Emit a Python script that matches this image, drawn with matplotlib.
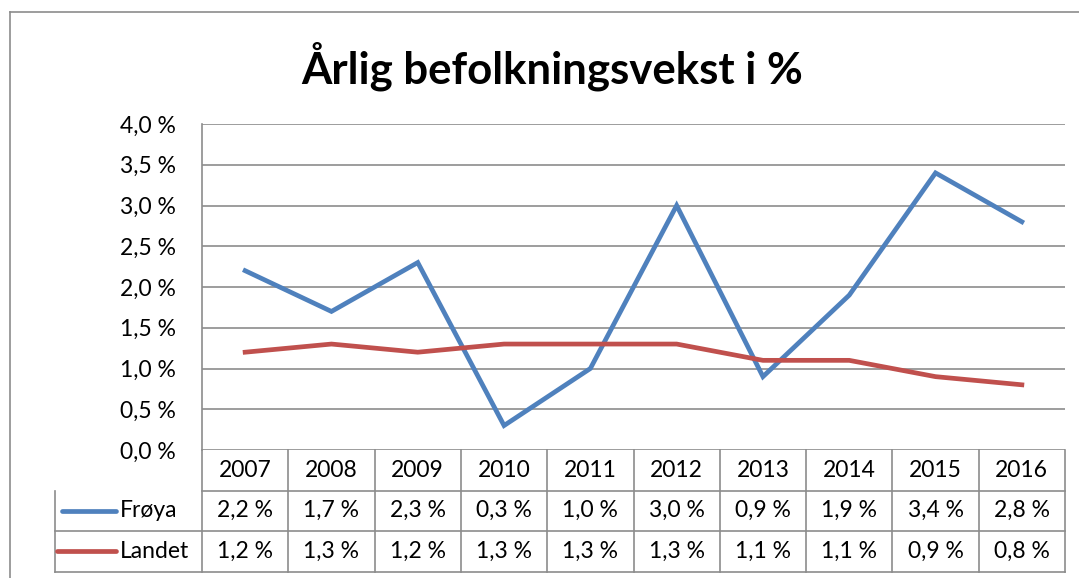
import matplotlib
matplotlib.use('Agg')
import matplotlib.pyplot as plt
from matplotlib.lines import Line2D
import numpy as np

plt.rcParams['font.family'] = ['Lato', 'DejaVu Sans']

# Data
years = ['2007', '2008', '2009', '2010', '2011', '2012', '2013', '2014', '2015', '2016']
froya = [2.2, 1.7, 2.3, 0.3, 1.0, 3.0, 0.9, 1.9, 3.4, 2.8]
landet = [1.2, 1.3, 1.2, 1.3, 1.3, 1.3, 1.1, 1.1, 0.9, 0.8]
series_names = ['Frøya', 'Landet']
series_colors = ['#4F81BD', '#C0504D']
y_ticks = [0.0, 0.5, 1.0, 1.5, 2.0, 2.5, 3.0, 3.5, 4.0]
title = 'Årlig befolkningsvekst i %'

W, H = 1079, 578
fig = plt.figure(figsize=(W / 100, H / 100), dpi=100)

# plot area in pixels
left_px, right_px, top_px, bottom_px = 202, 1065, 124, 450
ax = fig.add_axes([left_px / W, 1 - bottom_px / H,
                   (right_px - left_px) / W, (bottom_px - top_px) / H])

grid_col = '#8c8c8c'
fs = 16.5
x = np.arange(len(years))
for vals, col in zip([froya, landet], series_colors):
    ax.plot(x, vals, color=col, linewidth=3.4, solid_joinstyle='miter', zorder=3)

ax.set_xlim(-0.5, len(years) - 0.5)
ax.set_ylim(0, 4.0)
ax.set_yticks(y_ticks)
ax.set_yticklabels([f'{v:.1f} %'.replace('.', ',') for v in y_ticks], fontsize=fs)
ax.tick_params(axis='y', length=0, pad=19)
ax.set_xticks([])
ax.yaxis.grid(True, color=grid_col, linewidth=1.2)
ax.set_axisbelow(True)
for side in ['top', 'right', 'bottom']:
    ax.spines[side].set_visible(False)
ax.spines['left'].set_color(grid_col)
ax.spines['left'].set_linewidth(1.2)

# data table below plot (x in data units, y in axes fraction)
tr = ax.get_xaxis_transform()
col_px = (right_px - left_px) / len(years)
px2x = lambda px: -0.5 + (px - left_px) / col_px
row_h = 40.5 / (bottom_px - top_px)
legend_left = px2x(55)
n_rows = 1 + len(series_names)
y_bottom = -row_h * n_rows
kw = dict(color=grid_col, linewidth=1.2, transform=tr, clip_on=False)

# horizontal lines
ax.plot([-0.5, len(years) - 0.5], [-row_h, -row_h], **kw)
for r in range(1, n_rows):
    y = -row_h * (r + 1)
    ax.plot([legend_left, len(years) - 0.5], [y, y], **kw)
ax.plot([legend_left, legend_left], [-row_h, y_bottom], **kw)
for i in range(len(years) + 1):
    ax.plot([i - 0.5, i - 0.5], [0, y_bottom], **kw)

# header
for i, yr in enumerate(years):
    ax.text(i, -row_h * 0.5, yr, transform=tr, ha='center', va='center', fontsize=fs)

# body rows
line_starts = [62, 57]
for r, (name, vals, col) in enumerate(zip(series_names, [froya, landet], series_colors)):
    yc = -row_h * (r + 1.5)
    for i, v in enumerate(vals):
        ax.text(i, yc, f'{v:.1f} %'.replace('.', ','), transform=tr,
                ha='center', va='center', fontsize=fs)
    ax.text(px2x(120), yc, name, transform=tr, ha='left', va='center', fontsize=fs)
    ax.plot([px2x(line_starts[r]), px2x(116)], [yc, yc],
            color=col, linewidth=3.4, transform=tr, clip_on=False, solid_capstyle='round')

# title
fig.text(552 / W, 1 - 66 / H, title, ha='center', va='center',
         fontsize=31.5, fontweight='bold')

# outer chart border
fig.add_artist(Line2D([10 / W, 1], [1 - 12 / H, 1 - 12 / H], color='#8c8c8c', linewidth=1.2))
fig.add_artist(Line2D([10 / W, 10 / W], [0, 1 - 12 / H], color='#8c8c8c', linewidth=1.2))

fig.savefig('out.png', dpi=100)
